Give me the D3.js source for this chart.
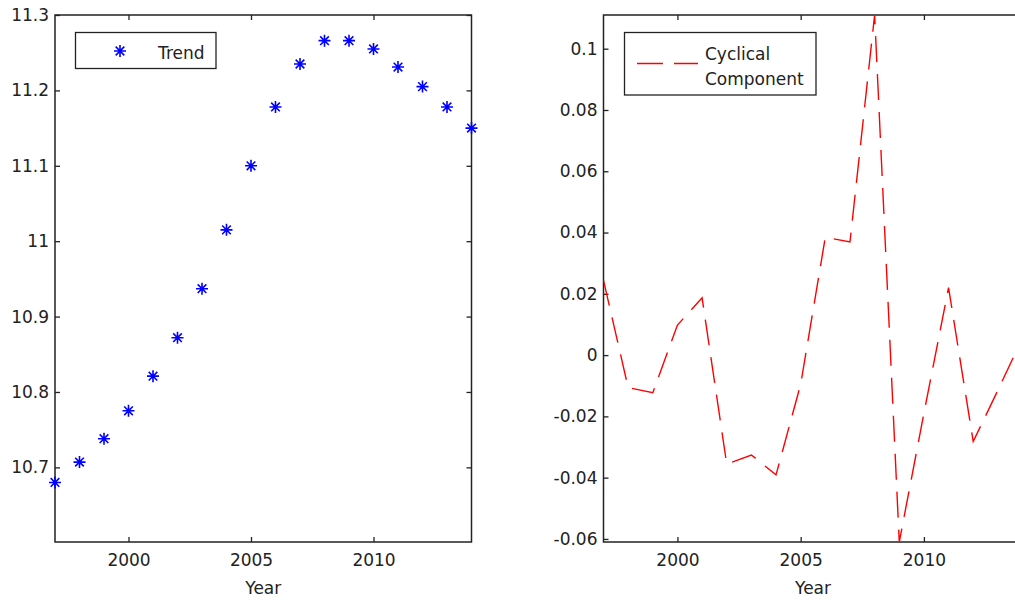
<!DOCTYPE html>
<meta charset="utf-8">
<style>
body { margin: 0; background: #fff; }
text { font-family: "DejaVu Sans", sans-serif; fill: #222; }
</style>
<body>
<script src="https://d3js.org/d3.v7.min.js"></script>
<script>
var width = 1015,
    height = 600;

// data
var years = [1997, 1998, 1999, 2000, 2001, 2002, 2003, 2004, 2005, 2006,
             2007, 2008, 2009, 2010, 2011, 2012, 2013, 2014];
var trend = [10.680, 10.707, 10.738, 10.775, 10.821, 10.872, 10.937, 11.015, 11.100, 11.178,
             11.235, 11.266, 11.266, 11.255, 11.231, 11.205, 11.178, 11.150];
var cyclical = [0.0244, -0.0106, -0.0123, 0.0098, 0.0187, -0.0356, -0.0326, -0.0391, -0.0095, 0.0385,
                0.0369, 0.111, -0.061, -0.019, 0.022, -0.0282, -0.0115, 0.0056];
var xTicks = [2000, 2005, 2010];
var trendTicks = [10.7, 10.8, 10.9, 11, 11.1, 11.2, 11.3];
var cycTicks = [-0.06, -0.04, -0.02, 0, 0.02, 0.04, 0.06, 0.08, 0.1];

var svg = d3.select("body").append("svg")
    .attr("width", width)
    .attr("height", height);

function panel(left, right, top, bottom, yDomain, yTicks) {
  var x = d3.scaleLinear().domain([1997, 2014]).range([left, right]);
  var y = d3.scaleLinear().domain(yDomain).range([bottom, top]);
  var g = svg.append("g");

  var clipId = "clip" + left;
  svg.append("clipPath").attr("id", clipId)
    .append("rect").attr("x", left).attr("y", top)
    .attr("width", right - left).attr("height", bottom - top);

  var axes = [
    d3.axisBottom(x).tickValues(xTicks).tickFormat(d3.format("d")).tickSize(-5).tickPadding(12),
    d3.axisTop(x).tickValues(xTicks).tickFormat("").tickSize(-5),
    d3.axisLeft(y).tickValues(yTicks).tickFormat(function(d) { return String(d); }).tickSize(-5).tickPadding(6),
    d3.axisRight(y).tickValues(yTicks).tickFormat("").tickSize(-5)
  ];
  var pos = ["translate(0," + bottom + ")", "translate(0," + top + ")",
             "translate(" + left + ",0)", "translate(" + right + ",0)"];
  axes.forEach(function(a, i) {
    var ag = g.append("g").attr("transform", pos[i]).call(a.tickSizeOuter(0));
    ag.select(".domain").remove();
    ag.selectAll("line").attr("stroke", "#222").attr("stroke-width", 1.3);
    ag.selectAll("text").style("font-size", "17px").attr("fill", "#222")
      .style("font-family", "DejaVu Sans, sans-serif");
  });

  g.append("rect")
    .attr("x", left).attr("y", top)
    .attr("width", right - left).attr("height", bottom - top)
    .attr("fill", "none").attr("stroke", "#222").attr("stroke-width", 1.5);

  g.append("text")
    .attr("x", x(2005.5)).attr("y", 594)
    .attr("text-anchor", "middle")
    .style("font-size", "17px")
    .text("Year");

  return {x: x, y: y, g: g, clip: "url(#" + clipId + ")"};
}

function starPath(cx, cy, r) {
  var d = r * 0.72;
  return "M" + (cx - r) + "," + cy + "L" + (cx + r) + "," + cy +
         "M" + cx + "," + (cy - r) + "L" + cx + "," + (cy + r) +
         "M" + (cx - d) + "," + (cy - d) + "L" + (cx + d) + "," + (cy + d) +
         "M" + (cx - d) + "," + (cy + d) + "L" + (cx + d) + "," + (cy - d);
}

// left: trend
var p1 = panel(55, 471.5, 15, 542, [10.601, 11.3], trendTicks);
p1.g.append("g").selectAll("path")
  .data(years)
  .join("path")
    .attr("d", function(d, i) { return starPath(p1.x(d), p1.y(trend[i]), 6); })
    .attr("stroke", "#0000ff")
    .attr("stroke-width", 1.6)
    .attr("fill", "none");

var leg1 = p1.g.append("g");
leg1.append("rect")
  .attr("x", 75.5).attr("y", 32.5).attr("width", 140.5).attr("height", 36)
  .attr("fill", "#fff").attr("stroke", "#222").attr("stroke-width", 1.3);
leg1.append("path")
  .attr("d", starPath(120, 51, 6))
  .attr("stroke", "#0000ff").attr("stroke-width", 1.6);
leg1.append("text")
  .attr("x", 158).attr("y", 59)
  .style("font-size", "17px")
  .text("Trend");

// right: cyclical component
var p2 = panel(603.5, 1022.5, 15, 542, [-0.061, 0.111], cycTicks);
var line = d3.line()
    .x(function(d, i) { return p2.x(years[i]); })
    .y(function(d) { return p2.y(d); });
p2.g.append("path")
  .datum(cyclical)
  .attr("clip-path", p2.clip)
  .attr("d", line)
  .attr("fill", "none")
  .attr("stroke", "#ff0000")
  .attr("stroke-width", 1.4)
  .attr("stroke-dasharray", "26,12");

var leg2 = p2.g.append("g");
leg2.append("rect")
  .attr("x", 624.5).attr("y", 32.5).attr("width", 191.5).attr("height", 62.5)
  .attr("fill", "#fff").attr("stroke", "#222").attr("stroke-width", 1.3);
leg2.append("line")
  .attr("x1", 637).attr("x2", 698).attr("y1", 63.5).attr("y2", 63.5)
  .attr("stroke", "#ff0000").attr("stroke-width", 1.4)
  .attr("stroke-dasharray", "26,11");
leg2.append("text")
  .attr("x", 705).attr("y", 60)
  .style("font-size", "17px")
  .text("Cyclical");
leg2.append("text")
  .attr("x", 705).attr("y", 85)
  .style("font-size", "17px")
  .text("Component");
</script>
</body>
